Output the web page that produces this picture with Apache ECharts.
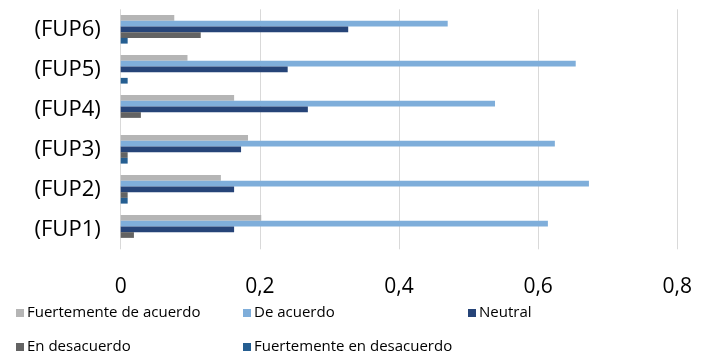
<!DOCTYPE html>
<html><head><meta charset="utf-8">
<script src="https://cdn.jsdelivr.net/npm/echarts@6/dist/echarts.min.js"></script>
<style>html,body{margin:0;padding:0;background:#fff}#c{width:711px;height:362px}</style>
</head><body><div id="c"></div>
<script>
const categories = ['(FUP1)', '(FUP2)', '(FUP3)', '(FUP4)', '(FUP5)', '(FUP6)'];
const seriesNames = ['Fuertemente de acuerdo', 'De acuerdo', 'Neutral', 'En desacuerdo', 'Fuertemente en desacuerdo'];
const fuertementeDeAcuerdo = [0.202, 0.144, 0.183, 0.163, 0.096, 0.077];
const deAcuerdo = [0.614, 0.673, 0.624, 0.538, 0.654, 0.470];
const neutral = [0.163, 0.163, 0.173, 0.269, 0.240, 0.327];
const enDesacuerdo = [0.019, 0.010, 0.010, 0.029, 0, 0.115];
const fuertementeEnDesacuerdo = [0, 0.010, 0.010, 0, 0.010, 0.010];
const xTicks = [0, 0.2, 0.4, 0.6, 0.8];

const values = [fuertementeDeAcuerdo, deAcuerdo, neutral, enDesacuerdo, fuertementeEnDesacuerdo];
const colors = ['#B5B5B5', '#7FAEDA', '#264478', '#636363', '#255E91'];
const legendPos = [[11, 300], [238, 300], [463, 300], [11, 334], [238, 334]];

const chart = echarts.init(document.getElementById('c'));
chart.setOption({
  animation: false,
  grid: {left: 120.7, right: 33.7, top: 9.3, bottom: 112.7, containLabel: false},
  xAxis: {
    type: 'value', min: 0, max: 0.8, interval: 0.2,
    axisLine: {show: false}, axisTick: {show: false},
    splitLine: {show: true, lineStyle: {color: '#D9D9D9', width: 1}},
    axisLabel: {margin: 27, fontFamily: 'Open Sans', fontSize: 21, color: '#000',
      formatter: v => xTicks.includes(Math.round(v*10)/10) ? String(Math.round(v*10)/10).replace('.', ',') : ''}
  },
  yAxis: {
    type: 'category', data: categories,
    axisLine: {show: false}, axisTick: {show: false},
    axisLabel: {margin: 20, fontFamily: 'Open Sans', fontSize: 22, color: '#000', padding: [6, 0, 0, 0]}
  },
  legend: seriesNames.map((n, i) => ({
    data: [n], left: legendPos[i][0], top: legendPos[i][1],
    itemWidth: 8, itemHeight: 8, icon: 'rect', itemGap: 4,
    textStyle: {fontFamily: 'Open Sans', fontSize: 15, lineHeight: 16, color: '#000', padding: [0, 0, 0, -2]}
  })),
  series: seriesNames.map((n, i) => ({
    name: n, type: 'bar', data: values[i],
    barGap: '0%', barCategoryGap: '28.5%',
    itemStyle: {color: colors[i]}
  }))
});
</script></body></html>
